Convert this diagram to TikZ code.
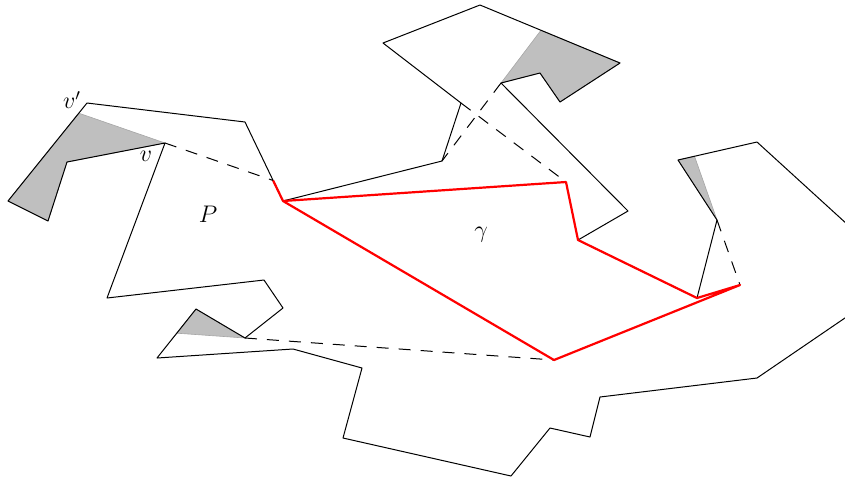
\documentclass[tikz,border=0pt]{standalone}
\usetikzlibrary{calc}

\def\unit{0.5pt}

\begin{document}
\begin{tikzpicture}[x=\unit,y=-\unit,line join=round]
    \tikzstyle{boundary}=[draw=black,line width=0.5pt]
    \tikzstyle{chord}=[draw=black,line width=0.5pt,dash pattern=on 6pt off 5pt]
    \tikzstyle{pocket}=[fill=black!25,draw=black!35,line width=0.3pt]
    \tikzstyle{geodesic}=[draw=red,line width=1.1pt]
    \tikzstyle{annot}=[inner sep=0pt,font=\large]

    \useasboundingbox (0,0) rectangle (845,479);
    \clip (0,0) rectangle (845,479);

    % Vertices of the polygon P
    \foreach \name / \x / \y in {1/87/103, 2/245/122, 3/283/201, 4/442/161,
        5/461/103, 6/383/43, 7/480/5, 8/620/63, 9/560/102, 10/540/73,
        11/501/83, 12/628/211, 13/578/240, 14/697/298, 15/717/220,
        16/678/160, 17/757/142, 18/905/277, 19/757/378, 20/600/397,
        21/590/437, 22/550/428, 23/511/476, 24/343/438, 25/362/368,
        26/293/349, 27/157/358, 28/196/309, 29/245/338, 30/283/308,
        31/264/280, 32/107/298, 33/165/143, 34/67/162, 35/48/221, 36/8/201}
        \coordinate (p-\name) at (\x,\y);

    % Free ends of the chords
    \coordinate (q-1) at ($(p-2)!0.74!(p-3)$);
    \coordinate (q-2) at (566,182);
    \coordinate (q-3) at (740,285);
    \coordinate (q-4) at (554,360);

    % Where the chords hit the boundary again
    \coordinate (s-1) at (intersection of p-33--q-1 and p-1--p-36);
    \coordinate (s-2) at (intersection of p-4--p-11 and p-7--p-8);
    \coordinate (s-3) at (intersection of q-3--p-15 and p-16--p-17);
    \coordinate (s-4) at (intersection of q-4--p-29 and p-27--p-28);

    % Shaded pockets
    \path[pocket] (s-1) -- (p-33) -- (p-34) -- (p-35) -- (p-36) -- cycle;
    \path[pocket] (s-2) -- (p-8) -- (p-9) -- (p-10) -- (p-11) -- cycle;
    \path[pocket] (p-16) -- (s-3) -- (p-15) -- cycle;
    \path[pocket] (s-4) -- (p-28) -- (p-29) -- cycle;

    % Chords
    \path[chord] (p-33) -- (q-1);
    \path[chord] (p-11) -- (p-4);
    \path[chord] (p-5) -- (q-2);
    \path[chord] (p-15) -- (q-3);
    \path[chord] (p-29) -- (q-4);

    % Boundary of P
    \path[boundary] (p-1) \foreach \i in {2,...,36} { -- (p-\i) } -- cycle;

    % The path gamma
    \path[geodesic] (q-1) -- (p-3) -- (q-2) -- (p-13) -- (p-14) -- (q-3)
        -- (q-4) -- (p-3);

    % Labels
    \node[annot] (lv1) at (72,100) {$v'$};
    \node[annot] (lv) at (146,156) {$v$};
    \node[annot] (lP) at (208,214) {$P$};
    \node[annot] (lg) at (481,235) {$\gamma$};
\end{tikzpicture}
\end{document}
